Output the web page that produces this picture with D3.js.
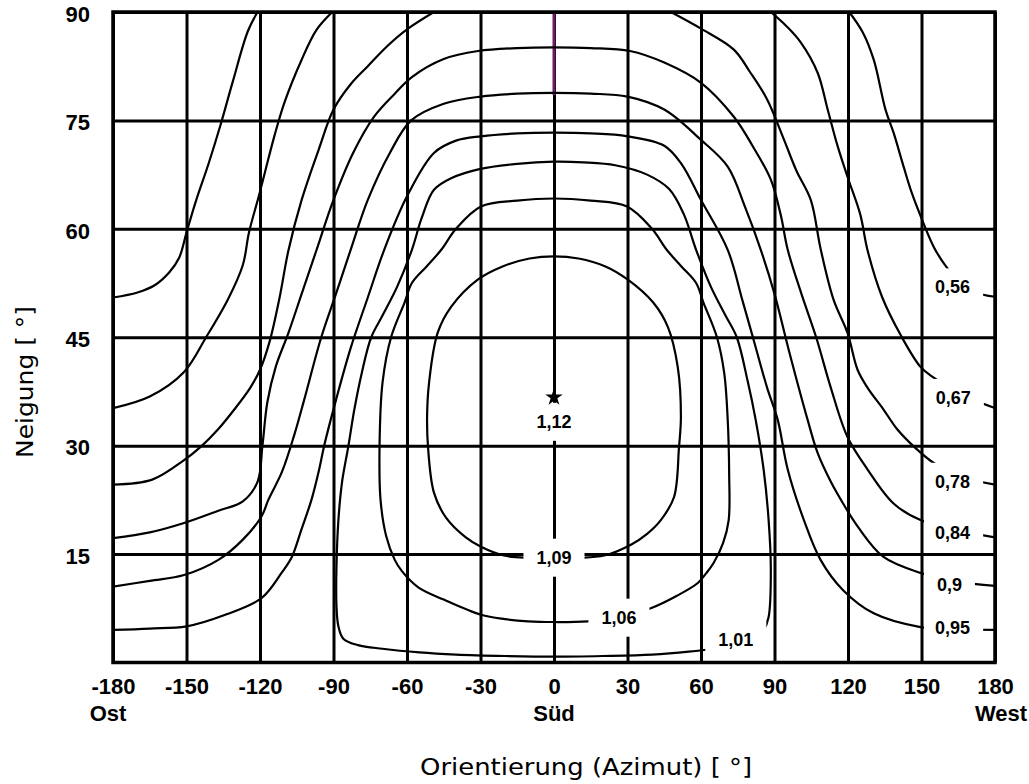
<!DOCTYPE html>
<html>
<head>
<meta charset="utf-8">
<script src="https://cdn.jsdelivr.net/npm/d3@7"></script>
<style>
  body { margin: 0; background: #fff; }
  .axis-label { font-family: "Liberation Sans Narrow", "Arial Narrow", "Liberation Sans", sans-serif; font-weight: bold; font-size: 22px; fill: #000; }
  .iso-label { font-family: "Liberation Sans", Arial, sans-serif; font-weight: bold; font-size: 18px; fill: #000; }
  .title { font-family: "DejaVu Sans", Verdana, sans-serif; font-size: 23px; fill: #000; }
</style>
</head>
<body>
<div id="chart"></div>
<script>
/* Neigung / Orientierung - Einstrahlungsfaktor (Isolinien) */

const width = 1029,
  height = 784,
  margin = ({ top: 12, right: 34, bottom: 121.5, left: 113 });

// axis ticks
const azTicks = [-180, -150, -120, -90, -60, -30, 0, 30, 60, 90, 120, 150, 180];
const tiltTicks = [15, 30, 45, 60, 75, 90];
const dirNames = ["Ost", "Süd", "West"];
const dirAz = [-180, 0, 180];

// isolines, [azimuth, tilt]
const iso056East = [[-180,50.5],[-170,51.2],[-163,52.2],[-157,54],[-153,56],[-150,59.5],[-146,64],[-141,69],[-136,74.5],[-131,80.5],[-125,87.3],[-121,90]];
const iso056West = [[120.5,90],[126,87.2],[130.5,83.4],[135.3,76.5],[138.6,73.3],[142.7,68.6],[146,65],[149.6,61.8],[155,57.5],[160,54.8],[166,52.5],[172,51.2],[180,50.6]];
const iso067East = [[-180,35.2],[-165,36.8],[-151,40.2],[-142,45],[-133,50.3],[-127,55],[-124.5,59.5],[-120.5,64.5],[-118,67.8],[-114,73],[-110,77.5],[-103,83.4],[-97,87.5],[-90.5,90]];
const iso067West = [[88.5,90],[95,88],[100.7,85.8],[107.6,81.6],[111.7,76.5],[115.8,71.4],[120,67],[125,62],[128,57],[134,50.5],[141.5,45.3],[149.6,40.9],[155,39.4],[165,37.3],[180,35.2]];
const iso078East = [[-180,24.6],[-164,25.3],[-151,28],[-144,29.9],[-137,32.3],[-130.5,35],[-124,38],[-120,40.5],[-116,44.5],[-112,50.5],[-108.4,57],[-103,64],[-96,71],[-90,76.5],[-83,80],[-76,82.5],[-68,85.3],[-60,87.6],[-49,90]];
const iso078West = [[47.7,90],[60,87.7],[73.4,84.8],[80,81.7],[87,77.9],[93.9,72.3],[99,68],[104.8,64],[108.9,57.1],[114.1,50.2],[119.8,45.6],[123.9,40.5],[128,38],[134.5,35],[140,32.3],[146.8,29.9],[155,27.6],[165,25.8],[180,24.6]];
const iso084 = [[-180,17.2],[-165,18],[-151,19.3],[-137,21],[-127,22.3],[-121,25],[-119,30],[-117,36],[-113.5,41],[-108.5,45.5],[-103,51],[-97,57],[-90,64],[-82,70.5],[-73.5,75.5],[-65,78.7],[-58,81],[-45,83.5],[-31,84.6],[-15,85],[0,85.1],[15,85],[31,84.6],[45,83],[60,80.2],[73.4,75.5],[81,71.5],[88.5,66.8],[92.5,62],[95.4,57.1],[101,51],[107,45],[113,38],[119.8,31.2],[128,26.7],[138.6,22],[149.6,19.7],[165,18.3],[180,17.3]];
const iso090 = [[-180,10.5],[-165,11.3],[-151,12.1],[-137,14.2],[-127,17],[-119.4,20.2],[-116.6,22.5],[-111,26.4],[-106,31.5],[-102,36.3],[-95,45],[-89,51],[-83,57.1],[-76,64],[-67,70.5],[-58.3,75],[-45,77.3],[-30,78.3],[-15,78.7],[0,78.8],[15,78.7],[30,78.3],[45,76.5],[60,72.3],[70.9,68.6],[78,63],[84.4,57.1],[90,51],[96,43],[103.5,33.6],[107.6,29],[113,25],[118,22],[124,18.8],[134.5,14.6],[149.6,12.4],[165,11.2],[180,10.6]];
const iso095 = [[-180,4.5],[-165,4.7],[-150,5],[-135,6.5],[-119.4,8.9],[-111,12.5],[-107,14.6],[-103,18.5],[-99,22.5],[-96,26.5],[-93.8,30],[-89,36.3],[-83,43.5],[-76,50.5],[-69.3,57.1],[-60,64.5],[-49,70.5],[-40,72.2],[-29.8,72.8],[-15,73.2],[0,73.3],[15,73.2],[30,72.8],[45,71.5],[52,69],[60,64],[70.9,57.1],[77,50],[82,44],[87,38],[91.3,33.6],[95.4,26.7],[102,19.7],[108.8,14.2],[118,10],[130.5,6.8],[149.6,4.9],[165,4.6],[180,4.5]];
// closed loops
const iso101 = [[0,69.3],[-15,69],[-30,68.3],[-42,67],[-49,65.4],[-54,61.5],[-58,57.1],[-64,52],[-70,48],[-74.6,45],[-78.5,40],[-81.5,35],[-84,29.8],[-86.5,25],[-88,19.7],[-88.8,13],[-88.8,8],[-88,5],[-86,3.3],[-80,2.4],[-70,1.9],[-55,1.4],[-40,1.1],[-20,0.9],[0,0.8],[20,0.9],[40,1.1],[55,1.5],[65,1.9],[75,2.5],[82,3.2],[85.6,4.5],[87.6,6.3],[88.5,12.9],[87.6,19.7],[85.6,26.6],[82.3,33.6],[79,39],[74.6,45],[70,48],[64,52],[58,57.1],[53,62],[47,65.5],[38,67.5],[25,68.8],[12,69.2]];
const iso106 = [[0,64.2],[-15,63.9],[-29.8,63.1],[-40,60],[-46,57.1],[-52,54.8],[-58,52.5],[-61,49.8],[-66.5,45],[-70,38.7],[-71.2,30],[-70.8,22.5],[-68.5,17.5],[-65,14.2],[-62,12.6],[-55.4,10.4],[-45,8.7],[-29.8,6.6],[-20,6],[-10.6,5.7],[0,5.6],[13.9,5.7],[26.5,6.2],[39.5,7.5],[50,9.2],[58.7,11],[62,12.3],[65.2,13.8],[69,16.5],[71.3,19.7],[71.5,26],[70.9,33.6],[69.5,40],[66.5,45],[61,49.8],[58,52.5],[52,54.8],[46,57.1],[40,60],[29.8,63.1],[15,63.9]];
const iso109 = [[0,56.2],[-10,55.9],[-21,54.8],[-31,53],[-42,49.2],[-47.5,45.6],[-51,38.7],[-51.8,34],[-51.4,29.7],[-49,23.5],[-44,20],[-36,17.3],[-29.8,16],[-20.5,14.8],[-10,14.5],[0,14.5],[10,14.5],[20.5,14.8],[31.4,16.3],[38,17.8],[43.6,19.7],[49,22.9],[51,29.7],[51.8,34],[50.5,40.9],[46.5,46.4],[40.5,49.8],[30,53],[21,54.8],[10,55.9]];

// maximum (1,12)
const maxPoint = [0, 36.7];

// isoline labels
const isoLabels = ["0,56", "0,67", "0,78", "0,84", "0,9", "0,95", "1,01", "1,06", "1,09", "1,12"];
const isoLabelAz = [162.7, 163, 162.7, 162.7, 161.4, 162.7, 74.2, 26.5, 0, 0];
const isoLabelTilt = [51.9, 36.6, 25, 17.9, 10.7, 4.8, 3.1, 6.2, 14.5, 33.3];

const openLines = [iso056East, iso056West, iso067East, iso067West, iso078East, iso078West, iso084, iso090, iso095];
const closedLines = [iso101, iso106, iso109];

const svg = d3.select("#chart")
  .append("svg")
  .attr("width", width)
  .attr("height", height)
  .attr("viewBox", [0, 0, width, height])
  .style("background", "#fff");

let x = d3.scaleLinear()
  .domain([-180, 180])
  .range([margin.left, width - margin.right]);

let y = d3.scaleLinear()
  .domain([0, 90])
  .range([height - margin.bottom, margin.top]);

// grid + tick labels
svg.append("g")
  .attr("class", "x-axis")
  .attr("transform", `translate(0,${y(0)})`)
  .call(d3.axisBottom(x)
    .tickValues(azTicks)
    .tickSize(-(y(0) - y(90)))
    .tickSizeOuter(0)
    .tickPadding(16)
    .tickFormat(d => d)
  );

svg.append("g")
  .attr("class", "y-axis")
  .attr("transform", `translate(${x(-180)},0)`)
  .call(d3.axisLeft(y)
    .tickValues(tiltTicks)
    .tickSize(-(x(180) - x(-180)))
    .tickSizeOuter(0)
    .tickPadding(23)
  );

svg.selectAll(".x-axis .domain, .y-axis .domain").remove();
svg.selectAll(".x-axis .tick line, .y-axis .tick line")
  .attr("stroke", "#000")
  .attr("stroke-width", 3);
svg.selectAll(".x-axis text, .y-axis text")
  .attr("class", "axis-label")
  .attr("font-family", null)
  .attr("font-size", null);
svg.selectAll(".y-axis text").attr("dy", "0.42em");

// the south line near the top is tinted in the original
svg.append("line")
  .attr("x1", x(0)).attr("x2", x(0))
  .attr("y1", y(90)).attr("y2", y(78.5))
  .attr("stroke", "#6e1d66")
  .attr("stroke-width", 3);

// Ost / Süd / West
svg.append("g")
  .selectAll("text")
  .data(dirNames)
  .join("text")
  .attr("class", "axis-label")
  .attr("text-anchor", "middle")
  .attr("x", (d, i) => x(dirAz[i]) + (i === 0 ? -5 : i === 2 ? 6 : 0))
  .attr("y", y(0) + 58)
  .text(d => d);

// isolines
let line = d3.line()
  .x(d => x(d[0]))
  .y(d => y(d[1]))
  .curve(d3.curveCatmullRom.alpha(0.5));

let loop = d3.line()
  .x(d => x(d[0]))
  .y(d => y(d[1]))
  .curve(d3.curveCatmullRomClosed.alpha(0.5));

const plot = svg.append("g");

plot.append("clipPath")
  .attr("id", "plot-clip")
  .append("rect")
  .attr("x", x(-180))
  .attr("y", y(90))
  .attr("width", x(180) - x(-180))
  .attr("height", y(0) - y(90));

const isoG = plot.append("g").attr("clip-path", "url(#plot-clip)");

isoG.selectAll("path.open")
  .data(openLines)
  .join("path")
  .attr("class", "open")
  .attr("d", line)
  .attr("fill", "none")
  .attr("stroke", "#000")
  .attr("stroke-width", 2.2);

isoG.selectAll("path.closed")
  .data(closedLines)
  .join("path")
  .attr("class", "closed")
  .attr("d", loop)
  .attr("fill", "none")
  .attr("stroke", "#000")
  .attr("stroke-width", 2.2);

// labels with white boxes (they break grid and isolines)
const lab = svg.append("g")
  .selectAll("g")
  .data(isoLabels)
  .join("g");

lab.append("rect").attr("fill", "#fff");
lab.append("text")
  .attr("class", "iso-label")
  .attr("text-anchor", "middle")
  .attr("dominant-baseline", "central")
  .attr("x", (d, i) => x(isoLabelAz[i]))
  .attr("y", (d, i) => y(isoLabelTilt[i]))
  .text(d => d);

lab.each(function (d, i) {
  const g = d3.select(this);
  const b = g.select("text").node().getBBox();
  let left = b.x - 13;
  if (isoLabelAz[i] > 150) left = Math.max(left, x(150) + 2.5);
  const right = b.x + b.width + 13;
  g.select("rect")
    .attr("x", left)
    .attr("y", b.y - 9)
    .attr("width", right - left)
    .attr("height", b.height + 18);
});

// maximum marker
svg.append("path")
  .attr("d", d3.symbol(d3.symbolStar, 95)())
  .attr("transform", `translate(${x(maxPoint[0])},${y(maxPoint[1])})`)
  .attr("fill", "#000");

// frame
svg.append("rect")
  .attr("x", x(-180))
  .attr("y", y(90))
  .attr("width", x(180) - x(-180))
  .attr("height", y(0) - y(90))
  .attr("fill", "none")
  .attr("stroke", "#000")
  .attr("stroke-width", 3.5);

// axis titles
svg.append("text")
  .attr("class", "title")
  .attr("text-anchor", "middle")
  .attr("x", 586)
  .attr("y", 775)
  .attr("textLength", 332)
  .attr("lengthAdjust", "spacingAndGlyphs")
  .text("Orientierung (Azimut) [ °]");

svg.append("text")
  .attr("class", "title")
  .attr("text-anchor", "middle")
  .attr("transform", "translate(33,382) rotate(-90)")
  .attr("textLength", 152)
  .attr("lengthAdjust", "spacingAndGlyphs")
  .text("Neigung [ °]");
</script>
</body>
</html>
